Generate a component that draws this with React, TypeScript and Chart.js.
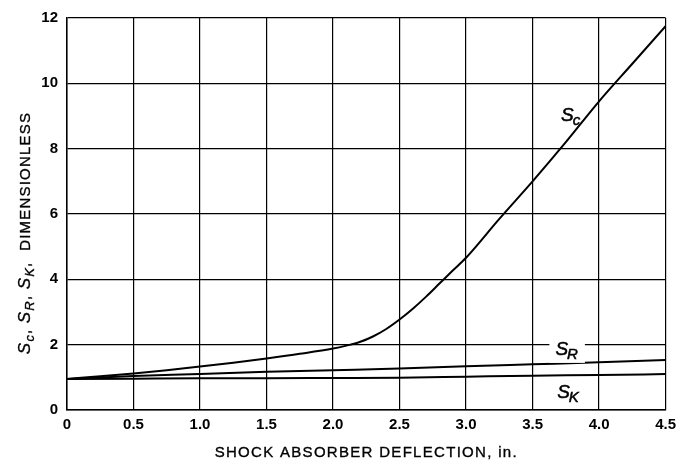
import React, { useEffect, useRef } from "react";
import { Chart, registerables } from "chart.js";

Chart.register(...registerables);

// ---------- data ----------
const scX = [0, 0.25, 0.5, 0.75, 1.0, 1.25, 1.5, 1.75, 2.0, 2.1, 2.2, 2.3, 2.4, 2.5, 2.6, 2.7, 2.8, 2.9, 3.0, 3.25, 3.5, 3.75, 4.0, 4.25, 4.5];
const scY = [0.95, 1.03, 1.12, 1.22, 1.33, 1.45, 1.58, 1.72, 1.88, 1.97, 2.08, 2.25, 2.48, 2.77, 3.1, 3.47, 3.87, 4.27, 4.66, 5.85, 7.0, 8.2, 9.45, 10.6, 11.75];

const srX = [0, 0.5, 1.0, 1.5, 2.0, 2.5, 3.0, 3.5, 4.0, 4.5];
const srY = [0.95, 1.04, 1.1, 1.17, 1.22, 1.27, 1.34, 1.4, 1.46, 1.53];

const skX = [0, 0.5, 1.0, 1.5, 2.0, 2.5, 3.0, 3.5, 4.0, 4.5];
const skY = [0.95, 0.96, 0.97, 0.97, 0.98, 0.99, 1.02, 1.05, 1.07, 1.1];

const xMin = 0;
const xMax = 4.5;
const xStep = 0.5;
const yMin = 0;
const yMax = 12;
const yStep = 2;

const curveLabelSubs = ["c", "R", "K"];
const curveLabelX = [3.79, 3.76, 3.77];
const curveLabelY = [9.0, 1.82, 0.52];
const curveLabelClear = [false, true, false];

const xTitle = "SHOCK ABSORBER DEFLECTION, in.";
const yTitleParts: [string, boolean][] = [
  ["S", false], ["c", true], [", ", false],
  ["S", false], ["R", true], [", ", false],
  ["S", false], ["K", true], [",  DIMENSIONLESS", false],
];

const FONT = "'Liberation Sans', Arial, Helvetica, sans-serif";

function drawS(ctx: CanvasRenderingContext2D, sub: string, cx: number, cy: number, size: number, clear: boolean) {
  const subSize = Math.round(size * 0.78);
  ctx.font = `italic ${size}px ${FONT}`;
  const w1 = ctx.measureText("S").width;
  ctx.font = `italic ${subSize}px ${FONT}`;
  const w2 = ctx.measureText(sub).width;
  const total = w1 + w2;
  const x0 = cx - total / 2;
  const base = cy + size * 0.25;
  if (clear) {
    ctx.fillStyle = "#ffffff";
    ctx.fillRect(x0 - 6, cy - size * 0.55, total + 12, size * 1.2);
  }
  ctx.fillStyle = "#000";
  ctx.strokeStyle = "#000";
  ctx.lineWidth = 0.5;
  ctx.textBaseline = "alphabetic";
  ctx.textAlign = "left";
  ctx.font = `italic ${size}px ${FONT}`;
  ctx.fillText("S", x0, base);
  ctx.strokeText("S", x0, base);
  ctx.font = `italic ${subSize}px ${FONT}`;
  ctx.fillText(sub, x0 + w1 - 1, base + size * 0.22);
  ctx.strokeText(sub, x0 + w1 - 1, base + size * 0.22);
}

const annotPlugin = {
  id: "annot",
  afterDatasetsDraw(chart: any) {
    const ctx: CanvasRenderingContext2D = chart.ctx;
    const xs = chart.scales.x;
    const ys = chart.scales.y;
    ctx.save();
    for (let i = 0; i < curveLabelSubs.length; i++) {
      drawS(ctx, curveLabelSubs[i], xs.getPixelForValue(curveLabelX[i]), ys.getPixelForValue(curveLabelY[i]), 19, curveLabelClear[i]);
    }
    ctx.restore();

    // x title
    ctx.save();
    (ctx as any).letterSpacing = "1.3px";
    ctx.font = `15px ${FONT}`;
    ctx.fillStyle = "#000";
    ctx.strokeStyle = "#000";
    ctx.lineWidth = 0.35;
    ctx.textAlign = "center";
    ctx.textBaseline = "middle";
    ctx.fillText(xTitle, (xs.left + xs.right) / 2, 453);
    ctx.strokeText(xTitle, (xs.left + xs.right) / 2, 453);
    ctx.restore();

    // y title (rotated)
    ctx.save();
    (ctx as any).letterSpacing = "1.2px";
    ctx.translate(30, 233);
    ctx.rotate(-Math.PI / 2);
    const mainFont = `15px ${FONT}`;
    const sFont = `italic 17px ${FONT}`;
    const subFont = `italic 13px ${FONT}`;
    const widths: number[] = [];
    let total = 0;
    for (const [t, isSub] of yTitleParts) {
      ctx.font = isSub ? subFont : t === "S" ? sFont : mainFont;
      const w = ctx.measureText(t).width;
      widths.push(w);
      total += w;
    }
    let px = -total / 2;
    ctx.fillStyle = "#000";
    ctx.strokeStyle = "#000";
    ctx.lineWidth = 0.35;
    ctx.textAlign = "left";
    ctx.textBaseline = "alphabetic";
    yTitleParts.forEach(([t, isSub], i) => {
      ctx.font = isSub ? subFont : t === "S" ? sFont : mainFont;
      ctx.fillText(t, px, isSub ? 4 : 0);
      ctx.strokeText(t, px, isSub ? 4 : 0);
      px += widths[i];
    });
    ctx.restore();
  },
};

export default function App() {
  const ref = useRef<HTMLCanvasElement | null>(null);
  useEffect(() => {
    document.body.style.margin = "0";
    const canvas = ref.current!;
    const mk = (xs: number[], ys: number[]) => xs.map((x, i) => ({ x, y: ys[i] }));
    const lineStyle = {
      borderColor: "#000",
      borderWidth: 2,
      pointRadius: 0,
      fill: false,
      cubicInterpolationMode: "monotone" as const,
    };
    const chart = new Chart(canvas, {
      type: "line",
      data: {
        datasets: [
          { label: "Sc", data: mk(scX, scY), ...lineStyle },
          { label: "SR", data: mk(srX, srY), ...lineStyle },
          { label: "SK", data: mk(skX, skY), ...lineStyle },
        ],
      },
      options: {
        animation: false,
        responsive: false,
        devicePixelRatio: 1,
        layout: { padding: { top: 12, right: 10, left: 0, bottom: 0 } },
        plugins: { legend: { display: false }, tooltip: { enabled: false } },
        scales: {
          x: {
            type: "linear",
            min: xMin,
            max: xMax,
            afterFit: (s: any) => { s.height = 55; },
            ticks: {
              stepSize: xStep,
              color: "#000",
              padding: 6,
              font: { family: FONT, size: 15, weight: "bold" },
              maxRotation: 0,
              callback: (v: any) => (Number(v) === 0 ? "0" : Number(v).toFixed(1)),
            },
            grid: { color: "#000", lineWidth: 1.2, drawTicks: false },
            border: { color: "#000", width: 1.5 },
          },
          y: {
            type: "linear",
            min: yMin,
            max: yMax,
            afterFit: (s: any) => { s.width = 67; },
            ticks: {
              stepSize: yStep,
              color: "#000",
              padding: 9,
              font: { family: FONT, size: 15, weight: "bold" },
            },
            grid: { color: "#000", lineWidth: 1.2, drawTicks: false },
            border: { color: "#000", width: 1.5 },
          },
        },
      },
      plugins: [annotPlugin],
    });
    return () => chart.destroy();
  }, []);
  return (
    <div style={{ width: 682, height: 465, background: "#fff" }}>
      <canvas ref={ref} width={682} height={465} style={{ display: "block" }} />
    </div>
  );
}
